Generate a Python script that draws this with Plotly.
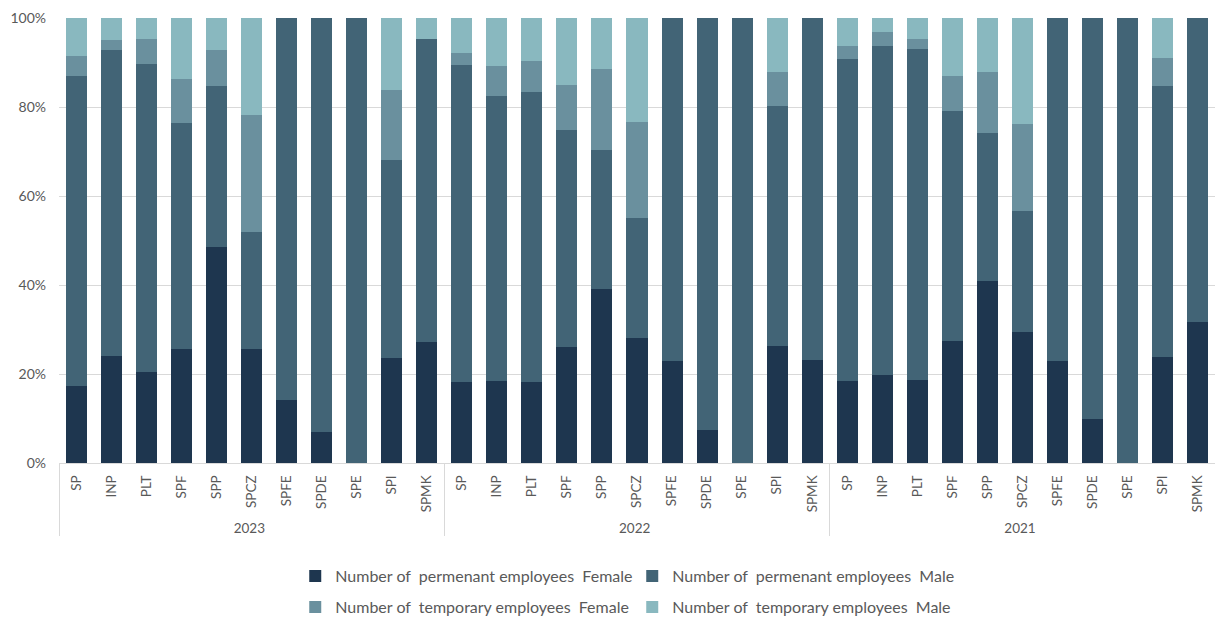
import plotly.graph_objects as go

# Share of each employee group per company and year (percent of total headcount)
years = ["2023", "2022", "2021"]
companies = ["SP", "INP", "PLT", "SPF", "SPP", "SPCZ", "SPFE", "SPDE", "SPE", "SPI", "SPMK"]

perm_female = {
    "2023": [17.3, 24.0, 20.4, 25.6, 48.5, 25.6, 14.2, 7.0, 0.0, 23.6, 27.2],
    "2022": [18.2, 18.4, 18.2, 26.1, 39.1, 28.1, 22.9, 7.4, 0.0, 26.3, 23.1],
    "2021": [18.4, 19.8, 18.7, 27.4, 40.9, 29.4, 22.9, 9.9, 0.0, 23.8, 31.7],
}
perm_male = {
    "2023": [69.7, 68.8, 69.3, 50.8, 36.2, 26.3, 85.8, 93.0, 100.0, 44.5, 68.1],
    "2022": [71.2, 64.1, 65.2, 48.7, 31.2, 27.0, 77.1, 92.6, 100.0, 53.9, 76.9],
    "2021": [72.4, 73.9, 74.3, 51.7, 33.3, 27.2, 77.1, 90.1, 100.0, 60.9, 68.3],
}
temp_female = {
    "2023": [4.5, 2.3, 5.6, 9.9, 8.1, 26.3, 0.0, 0.0, 0.0, 15.7, 0.0],
    "2022": [2.7, 6.7, 6.9, 10.1, 18.2, 21.5, 0.0, 0.0, 0.0, 7.7, 0.0],
    "2021": [2.9, 3.1, 2.3, 7.9, 13.7, 19.6, 0.0, 0.0, 0.0, 6.3, 0.0],
}
temp_male = {
    "2023": [8.5, 4.9, 4.7, 13.7, 7.2, 21.8, 0.0, 0.0, 0.0, 16.2, 4.7],
    "2022": [7.9, 10.8, 9.7, 15.1, 11.5, 23.4, 0.0, 0.0, 0.0, 12.1, 0.0],
    "2021": [6.3, 3.2, 4.7, 13.0, 12.1, 23.8, 0.0, 0.0, 0.0, 9.0, 0.0],
}

y_ticks = [0, 20, 40, 60, 80, 100]
y_tick_labels = ["0%", "20%", "40%", "60%", "80%", "100%"]

series = [
    ("Number of\u00a0 permenant employees\u00a0 Female", perm_female, "#1E364F", "legend"),
    ("Number of\u00a0 permenant employees\u00a0 Male", perm_male, "#426476", "legend"),
    ("Number of\u00a0 temporary employees\u00a0 Female", temp_female, "#6A909E", "legend2"),
    ("Number of\u00a0 temporary employees\u00a0 Male", temp_male, "#89B8BF", "legend2"),
]

x_outer = [y for y in years for _ in companies]
x_inner = [c for _ in years for c in companies]

FONT = "Lato, 'Open Sans', sans-serif"
GRAY = "#595959"
GRID = "#D9D9D9"

fig = go.Figure()
for name, data, color, leg in series:
    values = [v for y in years for v in data[y]]
    fig.add_trace(go.Bar(
        x=[x_outer, x_inner],
        y=values,
        name=name,
        marker=dict(color=color, line=dict(width=0)),
        legend=leg,
    ))

legend_style = dict(
    orientation="h",
    xref="container",
    yref="container",
    xanchor="left",
    x=0.243,
    yanchor="middle",
    entrywidth=292,
    entrywidthmode="pixels",
    font=dict(family=FONT, size=16, color=GRAY),
    itemwidth=30,
    traceorder="normal",
    bgcolor="rgba(0,0,0,0)",
)

fig.update_layout(
    width=1215,
    height=617,
    barmode="stack",
    barnorm="percent",
    bargap=0.4,
    plot_bgcolor="white",
    paper_bgcolor="white",
    margin=dict(l=59, r=0, t=18, b=154, autoexpand=False),
    font=dict(family=FONT, color=GRAY),
    legend=dict(legend_style, y=(617 - 576) / 617),
    legend2=dict(legend_style, y=(617 - 607) / 617),
    xaxis=dict(
        type="multicategory",
        tickangle=-90,
        tickfont=dict(family=FONT, size=13.5, color=GRAY),
        ticklabelstandoff=6,
        showline=True,
        linecolor=GRID,
        linewidth=1,
        showdividers=True,
        dividercolor=GRID,
        dividerwidth=1,
        ticks="",
        showgrid=False,
        automargin=False,
    ),
    yaxis=dict(
        range=[0, 100],
        tickvals=y_ticks,
        ticktext=y_tick_labels,
        tickfont=dict(family=FONT, size=14, color=GRAY),
        ticklabelstandoff=12,
        showgrid=True,
        gridcolor=GRID,
        gridwidth=1,
        zeroline=False,
        showline=False,
        ticks="",
        automargin=False,
    ),
)

fig.write_html("out.html")
